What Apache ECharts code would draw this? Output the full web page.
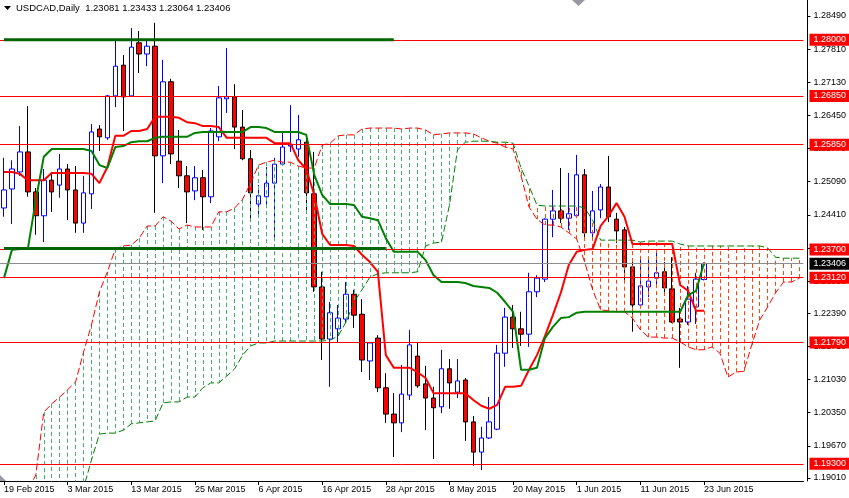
<!DOCTYPE html>
<html><head><meta charset="utf-8">
<script src="https://cdn.jsdelivr.net/npm/echarts@6/dist/echarts.min.js"></script>
<style>html,body{margin:0;padding:0;background:#fff}#c{width:849px;height:498px}</style>
</head><body><div id="c"></div>
<script>
// ---------- data ----------
const titleText = 'USDCAD,Daily  1.23081 1.23433 1.23064 1.23406';
const firstDate = [2015, 1, 19];   // 19 Feb 2015, daily trading bars
const barCount = 101;              // 89 price bars + cloud projected ahead
const labelEvery = 8;
const lastLabelBar = 88;

const opens = [1.2455,1.2494,1.2529,1.2570,1.2488,1.2439,1.2512,1.2502,1.2535,1.2492,
1.2424,1.2484,1.2617,1.2599,1.2685,1.2748,1.2685,1.2794,1.2771,1.2787,
1.2562,1.2714,1.2551,1.2521,1.2490,1.2517,1.2478,1.2601,1.2679,1.2683,
1.2621,1.2556,1.2463,1.2478,1.2506,1.2545,1.2582,1.2576,1.2590,1.2484,
1.2293,1.2186,1.2207,1.2227,1.2278,1.2237,1.2141,1.2188,1.2086,1.2032,
1.2014,1.2071,1.2151,1.2094,1.2065,1.2047,1.2125,1.2077,1.2102,1.2016,
1.1954,1.1983,1.2001,1.2157,1.2231,1.2207,1.2196,1.2283,1.2309,1.2432,
1.2449,1.2434,1.2439,1.2523,1.2404,1.2451,1.2498,1.2432,1.2410,1.2334,
1.2256,1.2293,1.2311,1.2324,1.2289,1.2227,1.2221,1.2252,1.23081];
const closes = [1.2492,1.2535,1.2570,1.2488,1.2439,1.2512,1.2488,1.2535,1.2492,1.2424,
1.2486,1.2611,1.2601,1.2685,1.2746,1.2683,1.2785,1.2771,1.2787,1.2562,
1.2714,1.2566,1.2521,1.2488,1.2517,1.2478,1.2613,1.2681,1.2683,1.2621,
1.2556,1.2486,1.2480,1.2506,1.2545,1.2580,1.2584,1.2595,1.2486,1.2293,
1.2186,1.2240,1.2229,1.2278,1.2235,1.2143,1.2178,1.2086,1.2032,1.2014,
1.2073,1.2174,1.2090,1.2065,1.2045,1.2125,1.2096,1.2100,1.2016,1.1954,
1.1983,1.2016,1.2157,1.2231,1.2207,1.2196,1.2283,1.2311,1.2432,1.2449,
1.2434,1.2443,1.2523,1.2404,1.2449,1.2498,1.2437,1.2408,1.2334,1.2256,
1.2295,1.2305,1.2322,1.2291,1.2221,1.2221,1.2268,1.2309,1.23406];
const highs = [1.2558,1.2553,1.2623,1.2664,1.2496,1.2535,1.2529,1.2566,1.2545,1.2541,
1.2521,1.2627,1.2625,1.2687,1.2798,1.2769,1.2824,1.2818,1.2798,1.2835,
1.2759,1.2720,1.2615,1.2541,1.2541,1.2533,1.2619,1.2705,1.2783,1.2709,
1.2656,1.2574,1.2502,1.2539,1.2558,1.2609,1.2666,1.2646,1.2607,1.2570,
1.2324,1.2262,1.2256,1.2303,1.2287,1.2268,1.2180,1.2194,1.2116,1.2075,
1.2133,1.2205,1.2178,1.2131,1.2088,1.2164,1.2145,1.2145,1.2106,1.2028,
1.2006,1.2067,1.2174,1.2250,1.2256,1.2242,1.2322,1.2317,1.2434,1.2492,
1.2537,1.2527,1.2564,1.2535,1.2490,1.2504,1.2562,1.2445,1.2416,1.2344,
1.2354,1.2354,1.2363,1.2344,1.2354,1.2250,1.2295,1.2322,1.23433];
const lows = [1.2437,1.2422,1.2521,1.2478,1.2400,1.2385,1.2447,1.2476,1.2430,1.2404,
1.2404,1.2453,1.2572,1.2595,1.2662,1.2613,1.2683,1.2732,1.2746,1.2445,
1.2506,1.2545,1.2496,1.2424,1.2471,1.2410,1.2465,1.2592,1.2650,1.2576,
1.2553,1.2426,1.2437,1.2455,1.2389,1.2543,1.2570,1.2560,1.2447,1.2283,
1.2143,1.2088,1.2180,1.2219,1.2209,1.2118,1.2102,1.2077,1.2014,1.1944,
1.1995,1.2061,1.2086,1.1999,1.1940,1.2034,1.2043,1.2065,1.1977,1.1926,
1.1917,1.1981,1.1999,1.2129,1.2168,1.2172,1.2170,1.2272,1.2303,1.2395,
1.2424,1.2410,1.2437,1.2389,1.2389,1.2434,1.2426,1.2383,1.2307,1.2201,
1.2252,1.2272,1.2293,1.2281,1.2219,1.2127,1.2215,1.2217,1.23064];

const tenkan = [1.2529,1.2529,1.2525,1.2512,1.2512,1.2512,1.2527,1.2527,1.2527,1.2527,
1.2527,1.2525,1.2506,1.2539,1.2603,1.2603,1.2613,1.2613,1.2617,1.2642,
1.2642,1.2642,1.2640,1.2631,1.2629,1.2623,1.2623,1.2621,1.2599,1.2599,
1.2599,1.2599,1.2599,1.2599,1.2588,1.2588,1.2588,1.2553,1.2535,1.2482,
1.2402,1.2379,1.2379,1.2379,1.2377,1.2359,1.2344,1.2324,1.2153,1.2127,
1.2127,1.2127,1.2118,1.2106,1.2075,1.2075,1.2075,1.2075,1.2075,1.2061,
1.2049,1.2043,1.2051,1.2088,1.2088,1.2090,1.2123,1.2153,1.2192,1.2235,
1.2281,1.2338,1.2365,1.2369,1.2371,1.2418,1.2439,1.2465,1.2437,1.2381,
1.2381,1.2381,1.2381,1.2381,1.2381,1.2297,1.2285,1.2244,1.2244];
const kijun = [1.2311,1.2369,1.2371,1.2371,1.2471,1.2560,1.2576,1.2576,1.2576,1.2576,
1.2576,1.2572,1.2543,1.2537,1.2580,1.2582,1.2590,1.2592,1.2592,1.2599,
1.2601,1.2601,1.2601,1.2601,1.2609,1.2611,1.2611,1.2611,1.2611,1.2611,
1.2611,1.2621,1.2621,1.2619,1.2611,1.2611,1.2611,1.2611,1.2605,1.2523,
1.2482,1.2463,1.2463,1.2463,1.2461,1.2437,1.2434,1.2430,1.2393,1.2365,
1.2365,1.2365,1.2365,1.2348,1.2317,1.2303,1.2303,1.2303,1.2301,1.2295,
1.2293,1.2291,1.2281,1.2262,1.2242,1.2123,1.2123,1.2127,1.2188,1.2211,
1.2229,1.2231,1.2240,1.2242,1.2242,1.2242,1.2242,1.2242,1.2242,1.2242,
1.2242,1.2242,1.2242,1.2242,1.2242,1.2242,1.2276,1.2285,1.2342];
const spanA = [1.1815,1.1835,1.1856,1.1876,1.1907,1.2036,1.2053,1.2067,1.2082,1.2098,
1.2159,1.2215,1.2283,1.2324,1.2371,1.2377,1.2379,1.2393,1.2418,1.2418,
1.2437,1.2428,1.2412,1.2420,1.2416,1.2416,1.2416,1.2447,1.2447,1.2455,
1.2473,1.2506,1.2543,1.2549,1.2553,1.2549,1.2549,1.2541,1.2537,1.2537,
1.2584,1.2588,1.2603,1.2605,1.2605,1.2617,1.2619,1.2619,1.2619,1.2619,
1.2617,1.2619,1.2619,1.2615,1.2605,1.2607,1.2609,1.2609,1.2609,1.2607,
1.2599,1.2592,1.2588,1.2580,1.2576,1.2521,1.2457,1.2432,1.2420,1.2420,
1.2416,1.2404,1.2391,1.2344,1.2287,1.2246,1.2244,1.2242,1.2242,1.2229,
1.2205,1.2190,1.2190,1.2188,1.2188,1.2180,1.2170,1.2164,1.2164,1.2170,
1.2157,1.2108,1.2118,1.2120,1.2174,1.2225,1.2252,1.2281,1.2303,1.2303,1.2311];
const spanB = [1.1800,1.1800,1.1800,1.1800,1.1800,1.1810,1.1820,1.1830,1.1845,1.1860,
1.1880,1.1938,1.1991,1.1993,1.1993,1.1999,1.2012,1.2014,1.2016,1.2018,
1.2055,1.2057,1.2057,1.2067,1.2067,1.2086,1.2096,1.2096,1.2110,1.2125,
1.2153,1.2172,1.2178,1.2178,1.2182,1.2182,1.2182,1.2182,1.2182,1.2182,
1.2182,1.2184,1.2192,1.2221,1.2262,1.2287,1.2313,1.2320,1.2322,1.2322,
1.2322,1.2322,1.2324,1.2377,1.2383,1.2385,1.2461,1.2574,1.2590,1.2592,
1.2592,1.2592,1.2590,1.2590,1.2588,1.2537,1.2500,1.2461,1.2459,1.2459,
1.2459,1.2459,1.2459,1.2455,1.2430,1.2389,1.2389,1.2389,1.2389,1.2389,
1.2385,1.2387,1.2387,1.2387,1.2387,1.2381,1.2377,1.2377,1.2377,1.2377,
1.2377,1.2377,1.2377,1.2377,1.2377,1.2377,1.2373,1.2354,1.2352,1.2352,1.2352];

const priceTicks = [1.19010,1.19670,1.20350,1.21030,1.21710,1.22390,1.23050,1.23730,
1.24410,1.25090,1.25770,1.26450,1.27130,1.27810,1.28490];
const levelPrices = [1.2800,1.2685,1.2585,1.2370,1.2312,1.2179,1.1930];
const trendPrices = [1.2800,1.2372];
const trendEndBars = [49,48];
const lastPrice = 1.23406;
const yMin = 1.18947, yMax = 1.28818;

// ---------- categories (trading days) ----------
const monthNames = ['Jan','Feb','Mar','Apr','May','Jun','Jul','Aug','Sep','Oct','Nov','Dec'];
const categories = [];
let t = Date.UTC(firstDate[0], firstDate[1], firstDate[2]);
while (categories.length < barCount) {
  const d = new Date(t);
  const wd = d.getUTCDay();
  if (wd !== 0 && wd !== 6) categories.push(d.getUTCDate() + ' ' + monthNames[d.getUTCMonth()] + ' ' + d.getUTCFullYear());
  t += 86400000;
}
const showLabel = (i) => i % labelEvery === 0 && i <= lastLabelBar;

const FONT = 'Liberation Sans, Arial, sans-serif';
const CLOUD_UP = '#3CB371';
const CLOUD_DOWN = '#FF4500';
const chart = echarts.init(document.getElementById('c'), null, {renderer: 'canvas'});

const candleData = opens.map((o, i) => [o, closes[i], lows[i], highs[i]]);
const cloudUp = [], cloudDown = [];
spanA.forEach((a, i) => {
  const seg = {coords: [[i, a], [i, spanB[i]]]};
  if (a >= spanB[i]) cloudUp.push(seg); else cloudDown.push(seg);
});

const levelMarks = levelPrices.map(v => ({yAxis: v}));
levelMarks.push({yAxis: lastPrice, lineStyle: {color: '#8C8C8C', width: 1, type: 'solid'},
  label: {backgroundColor: '#000000'}});

const trendSeries = trendPrices.map((p, k) => ({
  type: 'line', data: [[0, p], [trendEndBars[k], p]], symbol: 'none', silent: true,
  lineStyle: {color: '#006400', width: 3}, z: 7, animation: false
}));

// vertical dotted hatch between the two spans
function hatchSeries(data, color) {
  return {
    type: 'lines', coordinateSystem: 'cartesian2d', data: data, z: 3, silent: true,
    polyline: false, clip: true, large: false, symbol: ['none', 'none'],
    lineStyle: {color: color, width: 1, type: [4, 3], opacity: 1, curveness: 0}
  };
}

chart.setOption({
  backgroundColor: '#ffffff',
  animation: false,
  title: {text: titleText, left: 16, top: 3, padding: 0,
    textStyle: {fontSize: 9.5, fontWeight: 'normal', color: '#000', fontFamily: FONT}},
  grid: {left: -3.5, right: 44.5, top: 0, bottom: 17, containLabel: false},
  xAxis: {
    type: 'category', data: categories, boundaryGap: true,
    axisLine: {show: true, onZero: false, lineStyle: {color: '#000', width: 1}},
    axisTick: {show: true, alignWithLabel: true, interval: (i) => showLabel(i), length: 4, lineStyle: {color: '#000'}},
    axisLabel: {interval: (i) => showLabel(i), align: 'left', color: '#000', fontSize: 9, fontFamily: FONT, margin: 4},
    splitLine: {show: false}
  },
  yAxis: {
    type: 'value', position: 'right', offset: 4, min: yMin, max: yMax, scale: true,
    splitLine: {show: false},
    axisLine: {show: true, onZero: false, lineStyle: {color: '#000', width: 1}},
    axisTick: {show: true, length: 3, customValues: priceTicks, lineStyle: {color: '#000'}},
    axisLabel: {customValues: priceTicks, formatter: (v) => v.toFixed(5), color: '#000',
      fontSize: 9, fontFamily: FONT, margin: 6}
  },
  graphic: [
    {type: 'polygon', shape: {points: [[4, 6], [11, 6], [7.5, 10]]}, style: {fill: '#000'}, silent: true},
    {type: 'polygon', shape: {points: [[572, 0], [585, 0], [578.5, 6]]}, style: {fill: '#9898A4'}, silent: true},
    {type: 'polygon', shape: {points: [[0, 475], [0, 481], [6, 481]]}, style: {fill: '#9898A4'}, silent: true}
  ],
  series: [
    {
      type: 'candlestick', data: candleData, barWidth: 5, z: 2, silent: true,
      itemStyle: {color: '#FFFFFF', color0: '#FF0000', borderColor: '#0000FF', borderColor0: '#000000', borderWidth: 1}
    },
    hatchSeries(cloudUp, CLOUD_UP),
    hatchSeries(cloudDown, CLOUD_DOWN),
    {type: 'line', data: spanA, symbol: 'none', silent: true, z: 3,
      lineStyle: {color: '#FF0000', width: 1, type: [7, 3]}},
    {type: 'line', data: spanB, symbol: 'none', silent: true, z: 3,
      lineStyle: {color: '#008000', width: 1, type: [7, 3]}},
    {type: 'line', data: tenkan, symbol: 'none', silent: true, z: 4,
      lineStyle: {color: '#FF0000', width: 2}},
    {type: 'line', data: kijun, symbol: 'none', silent: true, z: 4,
      lineStyle: {color: '#008000', width: 2}},
    {
      type: 'line', data: [], z: 6, silent: true,
      markLine: {
        silent: true, symbol: ['none', 'none'], precision: 5, animation: false,
        lineStyle: {color: '#FF0000', width: 1, type: 'solid'},
        label: {position: 'end', distance: 6, formatter: (p) => p.value.toFixed(5),
          color: '#FFFFFF', backgroundColor: '#FF0000', fontSize: 9, fontFamily: FONT,
          padding: [1, 3, 1, 4], lineHeight: 10},
        emphasis: {disabled: true},
        data: levelMarks
      }
    },
    ...trendSeries
  ]
});
</script></body></html>
